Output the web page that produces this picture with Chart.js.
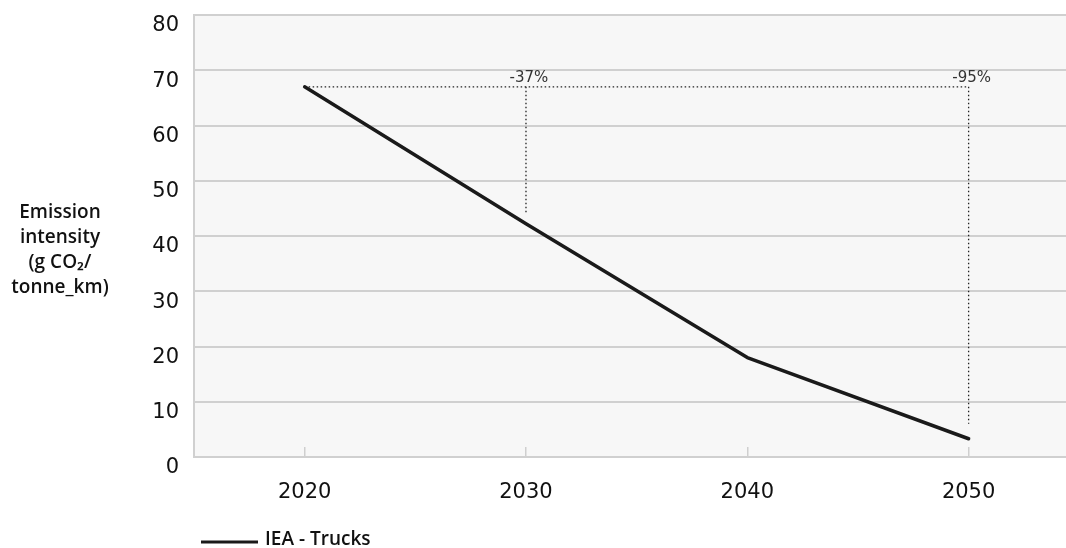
<!DOCTYPE html>
<html>
<head>
<meta charset="utf-8">
<script src="https://cdn.jsdelivr.net/npm/chart.js@4/dist/chart.umd.min.js"></script>
<style>
  html, body { margin: 0; padding: 0; background: #fff; }
  #wrap { width: 1066px; height: 548px; }
</style>
</head>
<body>
<div id="wrap"><canvas id="chart"></canvas></div>
<script>
// dados
const years = [2020, 2030, 2040, 2050];
const intensity = [67, 42.2, 18, 3.3];
const seriesLabel = "IEA - Trucks";

// marcações de redução (linhas pontilhadas)
const baseValue = 67;
const markYears = [2030, 2050];
const markLabels = ["-37%", "-95%"];
const markBottoms = [44, 6];

const yTitleLines = ["Emission", "intensity", "(g CO₂/", "tonne_km)"];

const tickFont = { family: "DejaVu Sans", size: 21 };
const titleFont = "600 19px 'Open Sans'";

// fundo cinza da área do gráfico + textos extras
const decorPlugin = {
  id: "decor",
  beforeDraw(chart) {
    const { ctx, chartArea } = chart;
    ctx.save();
    ctx.fillStyle = "#f7f7f7";
    ctx.fillRect(chartArea.left, chartArea.top, chartArea.right - chartArea.left, chartArea.bottom - chartArea.top);
    ctx.restore();
  },
  afterDraw(chart) {
    const { ctx } = chart;
    const xs = chart.scales.x;
    const ys = chart.scales.y;
    ctx.save();

    // rótulos -37% / -95%
    ctx.fillStyle = "#333";
    ctx.font = "15px 'DejaVu Sans'";
    ctx.textAlign = "center";
    ctx.textBaseline = "bottom";
    markYears.forEach((yr, i) => {
      ctx.fillText(markLabels[i], xs.getPixelForValue(yr) + 3, ys.getPixelForValue(baseValue) - 1);
    });

    // título do eixo Y (horizontal, várias linhas)
    ctx.fillStyle = "#111";
    ctx.font = titleFont;
    ctx.textBaseline = "middle";
    yTitleLines.forEach((line, i) => {
      ctx.fillText(line, 60, 213 + i * 25);
    });

    // legenda
    const ds = chart.data.datasets[0];
    ctx.strokeStyle = ds.borderColor;
    ctx.lineWidth = 3;
    ctx.beginPath();
    ctx.moveTo(201, 542);
    ctx.lineTo(258, 542);
    ctx.stroke();
    ctx.textAlign = "left";
    ctx.fillText(ds.label, 265, 540);

    ctx.restore();
  }
};

const dotted = {
  borderColor: "#222",
  borderWidth: 1.3,
  borderDash: [1.5, 2.5],
  pointRadius: 0,
  fill: false
};

const datasets = [
  {
    label: seriesLabel,
    data: years.map((x, i) => ({ x, y: intensity[i] })),
    borderColor: "#1a1a1a",
    borderWidth: 3.5,
    borderCapStyle: "round",
    borderJoinStyle: "round",
    pointRadius: 0,
    fill: false
  },
  {
    ...dotted,
    label: "base",
    data: [{ x: years[0], y: baseValue }, { x: markYears[markYears.length - 1], y: baseValue }]
  },
  ...markYears.map((yr, i) => ({
    ...dotted,
    label: markLabels[i],
    data: [{ x: yr, y: baseValue }, { x: yr, y: markBottoms[i] }]
  }))
];

new Chart(document.getElementById("chart"), {
  type: "line",
  data: { datasets },
  plugins: [decorPlugin],
  options: {
    responsive: true,
    maintainAspectRatio: false,
    animation: false,
    layout: { padding: { top: 15, left: 0, right: 0, bottom: 0 } },
    plugins: {
      legend: { display: false },
      tooltip: { enabled: false }
    },
    scales: {
      x: {
        type: "linear",
        min: 2015,
        max: 2054.4,
        afterBuildTicks: (s) => { s.ticks = years.map(v => ({ value: v })); },
        afterFit: (s) => { s.height = 91; s.paddingLeft = 0; s.paddingRight = 0; },
        ticks: {
          callback: (v) => String(v),
          font: tickFont,
          color: "#111",
          padding: 33,
          maxRotation: 0
        },
        grid: {
          drawOnChartArea: false,
          drawTicks: true,
          tickLength: -10,
          color: "#cfcfcf",
          lineWidth: 1.5
        },
        border: { color: "#d0d0d0", width: 2 }
      },
      y: {
        min: 0,
        max: 80,
        afterFit: (s) => { s.width = 194; s.paddingTop = 0; s.paddingBottom = 0; },
        ticks: {
          stepSize: 10,
          font: tickFont,
          color: "#111",
          padding: 15,
          labelOffset: 11
        },
        grid: {
          color: "#d0d0d0",
          lineWidth: 2,
          drawTicks: false
        },
        border: { color: "#d0d0d0", width: 2 }
      }
    }
  }
});
</script>
</body>
</html>
